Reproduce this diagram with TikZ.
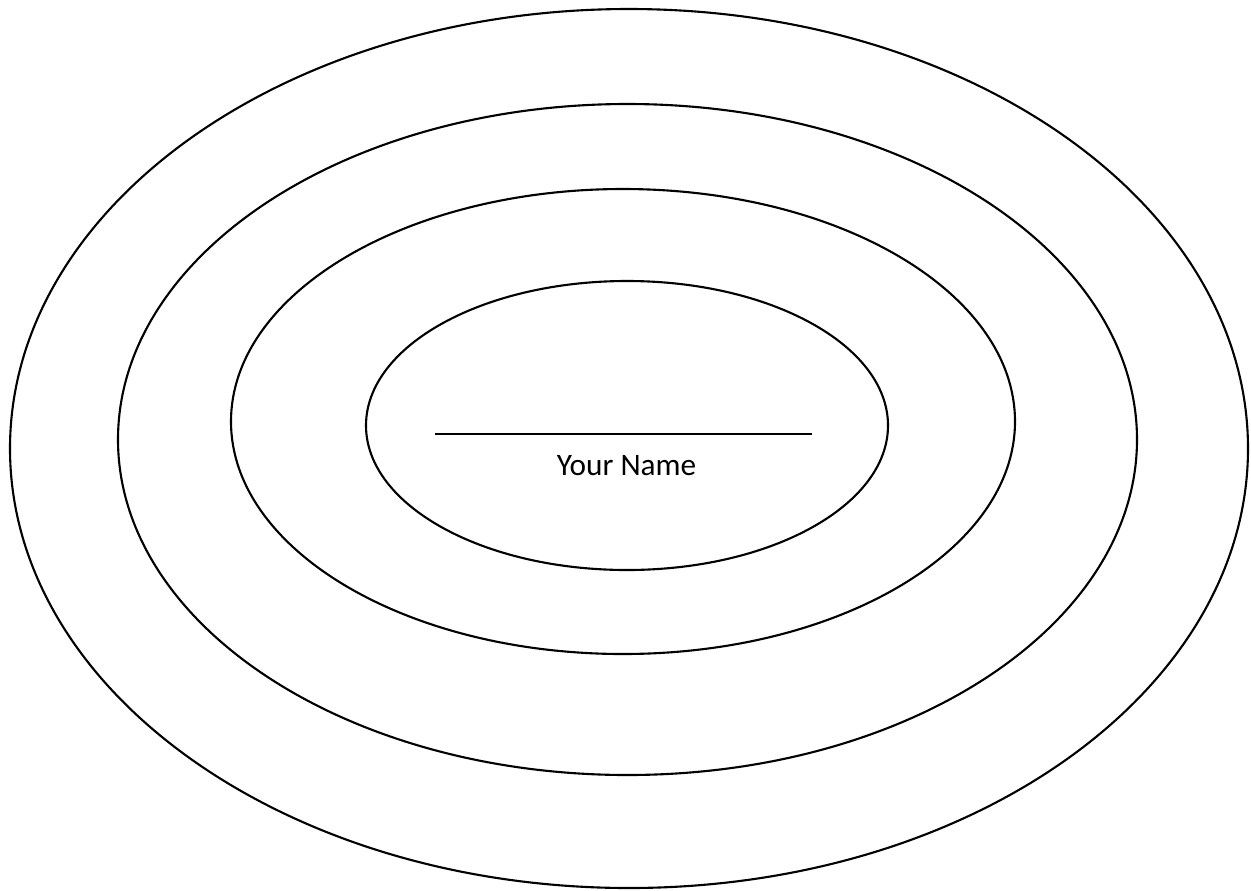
\documentclass[tikz,border=0pt]{standalone}
\usepackage{fontspec}
\setmainfont{Carlito}
\usepackage{tikz}
\usetikzlibrary{positioning}

\begin{document}
\begin{tikzpicture}[
			x=0.02cm, y=-0.02cm,
			ring/.style={draw=black, line width=1.2pt},
			nameline/.style={draw=black, line width=1.3pt},
			label/.style={font=\fontsize{17.8}{20}\selectfont, inner sep=0pt, anchor=base}
			]
			\useasboundingbox (0,0) rectangle (1251,890);
			
			% -------- Rings --------
			\draw[ring] (629,448.5) ellipse [x radius=619, y radius=439.5];
			\draw[ring] (627.5,439.5) ellipse [x radius=509.5, y radius=335.5];
			\draw[ring] (623,421.5) ellipse [x radius=392, y radius=232.5];
			\draw[ring] (627,425.5) ellipse [x radius=261, y radius=144.5];
			
			% -------- Name --------
			\coordinate (lineL) at (435,434);
			\coordinate (lineR) at (812,434);
			\draw[nameline] (lineL) -- (lineR);
			
			\node[label] (name) at (626.5,475) {Your Name};
			
	\end{tikzpicture}
\end{document}
